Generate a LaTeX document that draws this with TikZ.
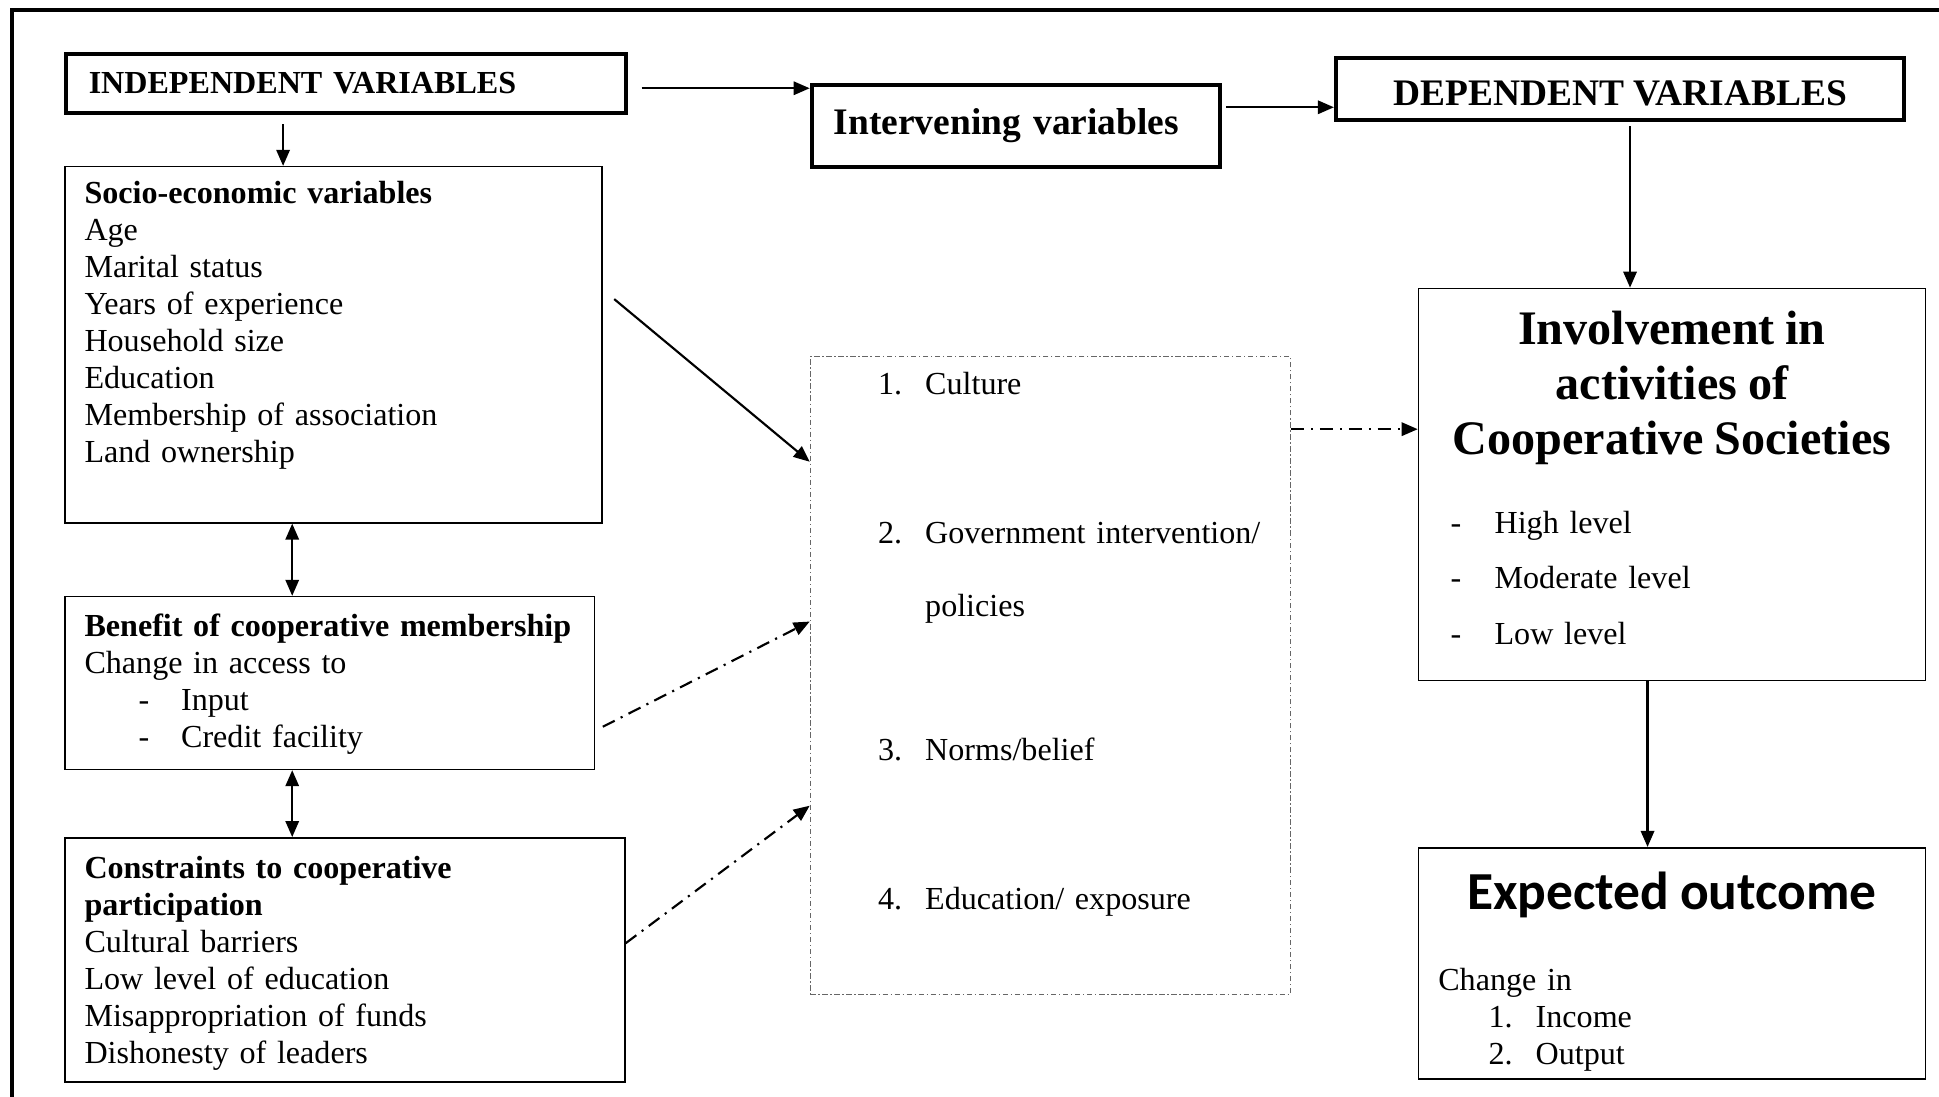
\documentclass[tikz,border=0pt]{standalone}
\usepackage{fontspec}
\setmainfont{Liberation Serif}
\newfontfamily\calibri{Carlito}
\usetikzlibrary{arrows.meta, positioning}

\begin{document}
\begin{tikzpicture}[
    box/.style={rectangle, draw=black, line width=0.6pt, anchor=north west, inner xsep=0.26cm, inner ysep=0pt, align=left, font=\fontsize{12}{13.8}\selectfont},
    headbox/.style={rectangle, draw=black, line width=1.5pt, inner ysep=0pt},
    arr/.style={-{Triangle[length=6pt,width=5pt]}, line width=0.8pt},
    dblarr/.style={{Triangle[length=6pt,width=5pt]}-{Triangle[length=6pt,width=5pt]}, line width=0.8pt},
    dotarr/.style={arr, dash pattern=on 5pt off 2.5pt on 0.8pt off 2.5pt}
]
    \useasboundingbox (0,0) rectangle (25.48,14.41);
    \draw[line width=1.7pt] (0.16,0) -- (0.16,14.28) -- (25.48,14.28);

    \node[headbox, anchor=north west, text width=6.76cm, inner xsep=0.3cm, minimum height=0.78cm, align=left, font=\bfseries\fontsize{12}{13.8}\selectfont] (ind) at (0.84,13.73) {INDEPENDENT VARIABLES};
    \node[headbox, anchor=north west, text width=4.78cm, inner xsep=0.29cm, minimum height=1.08cm, align=left, font=\bfseries\fontsize{14}{16}\selectfont] (inter) at (10.64,13.32) {Intervening variables};
    \node[headbox, minimum width=7.47cm, minimum height=0.82cm, text height=12pt, text depth=0pt, font=\bfseries\fontsize{14}{16}\selectfont] (dep) at (21.29,13.24) {DEPENDENT VARIABLES};

    \node[box, text width=6.54cm, text height=0.49cm, text depth=4.19cm] (socio) at (0.84,12.23) {%
        {\bfseries Socio-economic variables}\\ Age\\ Marital status\\ Years of experience\\
        Household size\\ Education\\ Membership of association\\ Land ownership};
    \node[box, text width=6.44cm, text height=0.53cm, text depth=1.74cm] (ben) at (0.84,6.58) {%
        {\bfseries Benefit of cooperative membership}\\ Change in access to\\
        \hspace*{0.71cm}\makebox[0.56cm][l]{-}Input\\
        \hspace*{0.71cm}\makebox[0.56cm][l]{-}Credit facility};
    \node[box, text width=6.84cm, text height=0.54cm, text depth=2.67cm] (cons) at (0.84,3.41) {%
        {\bfseries Constraints to cooperative\\ participation}\\ Cultural barriers\\
        Low level of education\\ Misappropriation of funds\\ Dishonesty of leaders};

    \node[box, draw=gray!80!black, line width=0.45pt, dash pattern=on 2pt off 1pt on 0.5pt off 1pt, inner xsep=0.2cm, text width=5.91cm, text height=0.50cm, text depth=7.88cm, font=\fontsize{12}{27.3}\selectfont] (mid) at (10.64,9.73) {%
        \hspace*{0.69cm}\makebox[0.62cm][l]{1.}Culture\\[28.4pt]
        \hspace*{0.69cm}\makebox[0.62cm][l]{2.}Government intervention/\\
        \hspace*{1.31cm}policies\\[26.6pt]
        \hspace*{0.69cm}\makebox[0.62cm][l]{3.}Norms/belief\\[28.4pt]
        \hspace*{0.69cm}\makebox[0.62cm][l]{4.}Education/ exposure};

    \node[box, align=center, text width=6.14cm, text height=0.74cm, text depth=4.41cm] (invol) at (18.63,10.63) {%
        {\fontsize{18}{20.6}\selectfont\bfseries Involvement in\\ activities of\\ Cooperative Societies\par}
        \vspace{8.9pt}
        {\raggedright\fontsize{12}{20.6}\selectfont
        \hspace*{0.16cm}\makebox[0.58cm][l]{-}High level\\
        \hspace*{0.16cm}\makebox[0.58cm][l]{-}Moderate level\\
        \hspace*{0.16cm}\makebox[0.58cm][l]{-}Low level\par}};
    \node[box, text width=6.14cm, text height=0.81cm, text depth=2.23cm] (exp) at (18.63,3.28) {%
        {\centering\calibri\bfseries\fontsize{20}{24}\selectfont Expected outcome\par}
        \vspace{16.5pt}
        Change in\\
        \hspace*{0.66cm}\makebox[0.62cm][l]{1.}Income\\
        \hspace*{0.66cm}\makebox[0.62cm][l]{2.}Output};

    \coordinate (xa) at (3.72,0);
    \coordinate (xb) at (3.84,0);
    \coordinate (xd) at (21.42,0);
    \coordinate (xe) at (21.65,0);
    \coordinate (ya) at (0,13.25);
    \coordinate (yb) at (0,13.0);
    \coordinate (yc) at (0,8.77);

    \draw[arr, shorten <=0.12cm] (ind.south -| xa) -- (socio.north -| xa);
    \draw[arr, shorten <=0.18cm] (ind.east |- ya) -- (inter.west |- ya);
    \draw[arr, shorten <=0.06cm] (inter.east |- yb) -- (dep.west |- yb);
    \draw[arr, shorten <=0.05cm] (dep.south -| xd) -- (invol.north -| xd);
    \draw[arr] (invol.south -| xe) -- (exp.north -| xe);

    \draw[dblarr] (socio.south -| xb) -- (ben.north -| xb);
    \draw[dblarr] (ben.south -| xb) -- (cons.north -| xb);

    \draw[arr] ([xshift=0.15cm,yshift=0.6cm]socio.east) -- ([yshift=2.81cm]mid.west);
    \draw[dotarr] ([xshift=0.1cm,yshift=-0.575cm]ben.east) -- ([yshift=0.71cm]mid.west);
    \draw[dotarr] ([yshift=0.22cm]cons.east) -- ([yshift=-1.71cm]mid.west);
    \draw[dotarr] (mid.east |- yc) -- (invol.west |- yc);
\end{tikzpicture}
\end{document}
